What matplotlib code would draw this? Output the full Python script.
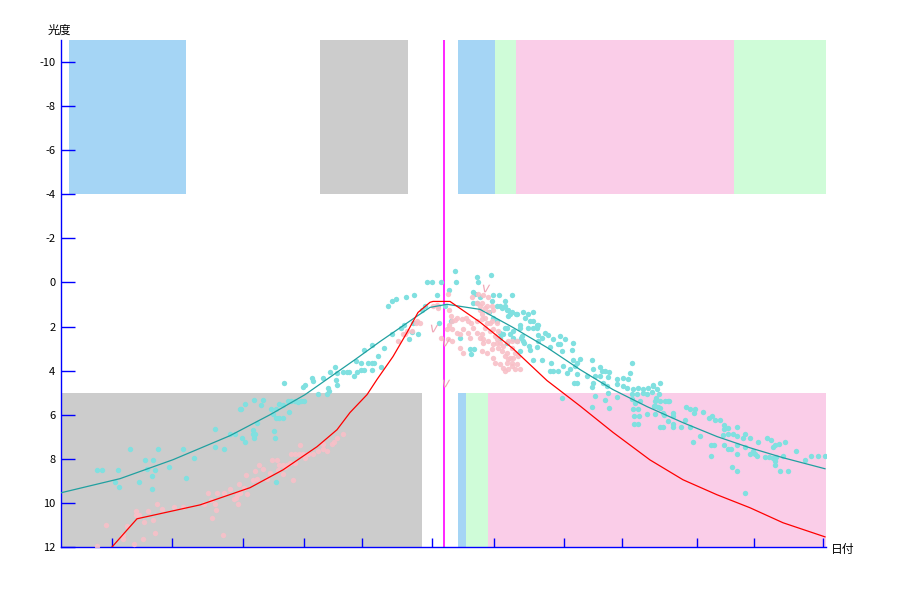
import matplotlib
matplotlib.use('Agg')
import matplotlib.pyplot as plt

plt.rcParams['font.family'] = ['Noto Sans CJK JP', 'DejaVu Sans']

# days from left edge, magnitude
yticks = [-10, -8, -6, -4, -2, 0, 2, 4, 6, 8, 10, 12]
xticks = [25.5, 55.5, 91, 121.5, 150.5, 185.5, 216.5, 251.5, 280.5, 318, 346.5, 381]

# observation bands (start day, end day, colour)
top_bands = [(4, 62.5, 'blue'), (129.5, 173.5, 'gray'), (198.5, 217, 'blue'),
             (217, 227.5, 'green'), (227.5, 336.5, 'pink'), (336.5, 382.5, 'green')]
bottom_bands = [(0, 180.5, 'gray'), (198.5, 202.5, 'blue'), (202.5, 213.5, 'green'),
                (213.5, 382.5, 'pink')]
band_colors = {'blue': '#a5d5f5', 'gray': '#cccccc', 'green': '#cffcd8', 'pink': '#facde8'}
top_range = (-11, -4)
bottom_range = (5, 12)
peak_day = 191.5

# model curves
teal_x = [0, 29.5, 56, 84.5, 104.5, 122, 147, 159.5, 177, 184.5, 193, 209.5, 226, 243,
          259.5, 276, 293, 311, 328, 344.5, 361, 382]
teal_y = [9.54, 8.9, 8.04, 6.95, 6.0, 5.09, 3.5, 2.68, 1.59, 1.13, 0.99, 1.22, 2.04, 2.95,
          3.95, 4.86, 5.63, 6.36, 6.99, 7.5, 7.95, 8.45]
red_x = [25.5, 33, 38, 69.5, 94.5, 111, 128, 138, 144.5, 153, 158, 166, 173, 178.5, 184.5,
         186, 194.5, 209.5, 226, 243, 259.5, 276, 294.5, 311, 328, 344.5, 361, 382]
red_y = [12, 11.23, 10.72, 10.09, 9.31, 8.5, 7.45, 6.68, 5.9, 5.09, 4.4, 3.36, 2.27, 1.36,
         0.9, 0.86, 0.86, 1.8, 3.0, 4.45, 5.6, 6.8, 8.05, 8.95, 9.63, 10.22, 10.9, 11.54]

cyan_x = [18, 20.5, 28.5, 27, 29, 34.5, 39, 42, 43, 45.5, 45.5, 46, 47, 48.5, 54, 61, 62.5,
          66.5, 77, 77, 81.5, 87, 89.5, 90.5, 92, 96, 96.5, 106.5, 107, 107.5, 84.5, 92,
          90, 96.5, 101, 100, 105, 107.5, 106, 109, 111, 113.5, 115, 117, 118.5, 120, 121.5,
          107.5, 109, 111, 114, 98, 96, 97, 111.5, 121, 122, 125.5, 126, 131, 133.5, 134,
          133, 128.5, 134.5, 137, 137.5, 138, 138, 141, 143, 144, 146.5, 148, 150, 150,
          151.5, 147.5, 151.5, 153.5, 155.5, 156.5, 155.5, 155.5, 158.5, 160, 161.5, 165.5,
          170, 171.5, 175.5, 176, 174, 178.5, 163.5, 165.5, 167.5, 172.5, 176.5, 182, 180.5,
          183, 185.5, 190, 188, 197, 197.5, 194, 192, 188.5, 208, 215, 208.5, 206, 207,
          209.5, 206, 208, 216, 219, 225.5, 222, 218, 220.5, 223.5, 225.5, 227.5, 231, 233.5,
          236, 214, 216, 218, 222, 226, 229.5, 219.5, 223, 226, 230, 231.5, 234, 236, 238.5,
          238, 204.5, 206.5, 205, 199.5, 195, 189,
          215.5, 219.5, 222, 223, 224.5, 223.5, 228, 232, 234.5, 236, 238.5, 229.5, 233.5,
          236, 238, 223, 242, 243.5, 246, 249.5, 219.5, 221, 224.5, 230.5, 226, 228, 231,
          238.5, 240.5, 249.5, 252, 229.5, 234.5, 238, 244.5, 248.5, 250.5, 256, 255.5,
          240.5, 245, 244.5, 246, 248.5, 251, 253, 254.5, 256, 258, 259.5, 257, 258, 256.5,
          258, 265.5, 263, 266, 267, 269.5, 270.5, 272, 274, 273.5, 269.5, 271, 273, 266,
          265.5, 278, 278, 281, 283.5, 285.5, 284.5, 281, 283, 278, 273.5, 272, 274, 267,
          265.5, 250.5, 286, 288.5, 291, 293.5, 296, 299.5, 285.5, 288, 291, 293, 285.5,
          287, 289.5, 297, 299.5, 302, 303.5, 286, 288.5, 297, 299.5, 286.5, 289, 293, 301,
          306, 306, 286.5, 288.5, 299.5, 301, 306, 298,
          296, 295.5, 297.5, 299, 304, 296.5, 298.5, 301.5, 297, 303.5, 306, 310, 314.5,
          312.5, 314.5, 317, 316.5, 312, 321, 324, 325.5, 327, 329.5, 331.5, 331.5, 333.5,
          338, 319.5, 316, 325, 326.5, 325, 331, 333.5, 336, 338, 341, 342, 344.5, 331.5,
          333.5, 335, 338, 338, 342, 344.5, 346, 347, 348.5, 348, 353, 355, 357, 359, 356,
          362, 352, 354, 356, 357.5, 357, 357, 361, 367.5, 372, 375, 378.5, 382, 359.5,
          363.5, 335.5, 338, 342]
cyan_y = [8.5, 8.5, 8.5, 9.05, 9.27, 7.55, 9.05, 8.05, 8.45, 8.77, 9.36, 8.05, 8.5, 7.55,
          8.36, 7.55, 8.86, 7.95, 6.64, 7.45, 7.55, 6.86, 5.73, 7.05, 7.23, 6.86, 7.05, 6.73,
          7.05, 9.05, 6.86, 5.5, 5.73, 5.32, 5.32, 5.55, 5.73, 5.73, 5.95, 5.5, 5.55, 5.36,
          5.36, 5.36, 5.41, 5.36, 5.36, 6.14, 6.14, 6.14, 5.86, 6.36, 6.68, 6.86, 4.55, 4.73,
          4.64, 4.32, 4.45, 4.32, 4.77, 4.91, 5.05, 5.05, 4.05, 3.82, 4.41, 4.64, 4.09, 4.05,
          4.05, 4.05, 4.23, 4.05, 3.64, 3.95, 3.95, 3.55, 3.05, 3.64, 3.64, 3.64, 3.95, 2.82,
          3.32, 3.82, 2.95, 2.32, 2.05, 1.91, 2.23, 1.82, 2.55, 2.32, 1.05, 0.82, 0.73, 0.64,
          0.55, 1.05, 1.27, 0.0, 0.0, 0.0, 0.55, -0.5, 0.0, 0.32, 1.05, 1.05, -0.27, -0.36,
          0.0, 0.41, 0.5, 0.68, 0.91, 0.95, 0.55, 0.55, 0.55, 0.86, 1.05, 1.14, 1.23, 1.36,
          1.41, 1.36, 1.45, 1.36, 1.36, 1.59, 1.77, 2.05, 2.18, 2.05, 2.5, 2.73, 2.5, 2.5,
          2.73, 2.86, 3.5, 2.36, 1.95, 3.0, 3.0, 3.23, 2.5, 1.73, 1.82,
          0.82, 1.05, 1.05, 1.27, 1.41, 1.5, 1.41, 1.59, 1.73, 1.73, 1.91, 1.91, 2.05, 2.05,
          2.05, 2.05, 2.27, 2.36, 2.55, 2.41, 2.27, 2.32, 2.32, 2.41, 2.55, 2.64, 2.64, 2.64,
          2.5, 2.77, 2.55, 3.09, 3.05, 2.91, 2.91, 2.77, 3.09, 2.73, 3.05, 3.5, 3.64, 4.0,
          4.0, 4.0, 3.77, 4.09, 3.91, 3.5, 3.64, 3.45, 3.77, 4.14, 4.55, 4.55, 3.5, 4.23,
          3.91, 4.23, 3.82, 4.0, 4.0, 4.05, 4.27, 4.23, 4.55, 4.68, 4.55, 4.73, 4.36, 4.59,
          4.32, 4.36, 3.64, 4.09, 4.68, 4.77, 5.18, 5.0, 5.32, 5.68, 5.14, 5.64, 5.23, 4.82,
          4.77, 4.82, 4.77, 4.68, 4.55, 5.05, 5.05, 5.0, 5.05, 5.27, 5.45, 5.36, 5.36, 5.36,
          5.36, 5.36, 5.73, 5.73, 5.59, 5.68, 6.05, 6.05, 5.95, 5.91, 5.91, 6.05, 6.41, 6.41,
          6.55, 6.55, 6.41, 4.82,
          4.64, 4.95, 5.23, 5.05, 5.36, 5.59, 5.64, 6.0, 5.95, 6.27, 6.55, 6.55, 6.55, 5.64,
          5.73, 5.73, 5.91, 6.23, 5.86, 6.14, 6.05, 6.23, 6.23, 6.45, 6.64, 6.59, 6.55, 6.95,
          7.23, 7.36, 7.36, 7.86, 6.91, 6.86, 6.86, 6.95, 7.05, 6.86, 7.05, 7.36, 7.55, 7.55,
          7.36, 7.77, 7.45, 7.77, 7.64, 7.77, 7.23, 7.86, 7.05, 7.14, 7.36, 7.32, 7.45, 7.23,
          7.91, 7.91, 7.95, 7.91, 8.09, 8.27, 7.86, 7.64, 8.05, 7.86, 7.86, 7.86, 8.55, 8.55,
          8.36, 8.55, 9.55]

pink_x = [18, 22.5, 31, 31, 33, 36.5, 41, 37.5, 37.5, 39, 43.5, 41.5, 46, 47, 48, 50.5,
          56.5, 61, 73.5, 78, 81.5, 75.5, 77.5, 77, 81, 84.5, 86.5, 87.5, 88.5, 89, 75, 71.5,
          88, 89.5, 91.5, 93, 92.5, 96, 98, 97, 99, 101, 103, 104.5, 105.5, 108, 109, 111,
          113, 108.5, 112, 115, 117, 119, 121, 114.5, 117, 116, 119.5, 122, 126, 128.5, 131,
          133, 135.5, 136.5, 138, 141, 131, 123.5, 111,
          168.5, 171, 172, 173, 175.5, 177.5, 178, 179.5, 186, 188, 188.5, 193.5, 194, 195,
          195.5, 194, 197, 198, 200.5, 202.5, 203.5, 205, 193, 195.5, 198, 199.5, 201, 203.5,
          206, 208, 209.5, 211, 208, 209.5, 210.5, 212, 213, 205.5, 208, 208.5, 209.5, 212,
          213.5, 214.5, 216, 217, 218, 218.5, 220.5, 222, 223.5, 225.5, 226, 219.5, 221, 222,
          223.5, 210.5, 213, 199.5, 201, 193.5, 195.5, 190, 204.5, 225.5, 227, 228.5, 216,
          217, 225.5, 211, 213.5, 210.5, 213, 215.5, 216, 210.5, 215.5, 218, 212, 214.5,
          218.5, 210.5, 211, 213.5, 216, 218, 219.5, 221, 215.5, 223, 224.5, 223, 225.5, 228,
          227, 229.5, 228, 223.5]
pink_y = [11.95, 11.0, 11.45, 11.64, 11.05, 11.86, 11.64, 10.36, 10.55, 10.55, 10.36, 10.86,
          10.77, 11.36, 10.05, 10.27, 10.18, 10.18, 9.55, 9.55, 9.55, 10.68, 10.32, 10.05,
          11.45, 9.36, 9.82, 9.77, 10.05, 9.14, 9.86, 10.05, 9.64, 9.55, 9.32, 9.59, 8.73,
          8.95, 8.91, 8.55, 8.27, 8.45, 8.91, 8.64, 8.05, 8.05, 8.27, 8.27, 8.27, 8.5, 8.36,
          7.77, 7.77, 7.77, 7.77, 8.18, 8.18, 8.95, 7.36, 7.95, 7.77, 7.64, 7.55, 7.64, 7.32,
          7.23, 7.05, 6.86, 7.32, 7.77, 8.68,
          2.64, 2.32, 2.32, 2.18, 2.18, 1.82, 1.73, 1.82, 1.05, 1.0, 1.14, 0.5, 1.27, 1.5,
          1.73, 1.95, 1.68, 1.59, 1.64, 1.59, 1.73, 1.86, 2.09, 2.09, 2.27, 2.32, 2.09, 2.27,
          2.05, 2.27, 2.5, 2.73, 1.73, 1.27, 1.41, 1.59, 1.82, 0.68, 0.91, 0.5, 1.05, 1.18,
          1.36, 1.86, 2.09, 2.41, 2.73, 2.95, 3.09, 3.32, 3.45, 3.64, 3.41, 3.68, 3.86, 4.0,
          3.91, 3.09, 3.18, 2.95, 3.18, 2.55, 2.64, 2.5, 2.5, 2.95, 3.18, 3.32, 3.41, 3.64,
          2.64, 0.59, 0.68, 0.95, 1.05, 1.05, 1.27, 1.64, 1.73, 1.86, 2.05, 2.18, 2.18, 2.32,
          2.55, 2.64, 2.77, 2.55, 2.73, 2.86, 3.0, 3.18, 3.41, 3.64, 3.77, 3.68, 3.91, 3.91,
          2.64, 2.64]

# upper limit marks
limit_x = [186.5, 192.5, 192.5, 212.5]
limit_y = [2.05, 2.68, 4.55, 0.23]

fig = plt.figure(figsize=(9, 6), dpi=100)
ax = fig.add_axes([61 / 900, 53 / 600, 765 / 900, 507 / 600])

for x0, x1, c in top_bands:
    ax.axvspan(x0, x1, ymin=1 - (top_range[1] - (-11)) / 23, ymax=1,
               color=band_colors[c], lw=0, zorder=0)
for x0, x1, c in bottom_bands:
    ax.axvspan(x0, x1, ymin=0, ymax=(12 - bottom_range[0]) / 23,
               color=band_colors[c], lw=0, zorder=0)

ax.axvline(peak_day, color='#ff00ff', lw=1.2, zorder=1)

ax.scatter(cyan_x, cyan_y, marker='o', s=15, color='#80e0e0', lw=0, zorder=2)
ax.scatter(pink_x, pink_y, marker='o', s=15, color='#f8c0c8', lw=0, alpha=0.9, zorder=3)
ax.scatter(limit_x, limit_y, marker='$v$', s=30, color='#f0a8b8', lw=0, zorder=3)

ax.plot(teal_x, teal_y, color='#20a0a0', lw=0.9, zorder=4)
ax.plot(red_x, red_y, color='#ff0000', lw=0.9, zorder=5)

ax.set_xlim(0, 382.5)
ax.set_ylim(12, -11)
ax.set_yticks(yticks)
ax.set_yticklabels([str(v) for v in yticks], fontsize=8)
ax.set_xticks(xticks)
ax.set_xticklabels([])
ax.tick_params(axis='y', direction='in', length=10, width=1, color='blue', pad=4)
ax.tick_params(axis='x', direction='in', length=6.5, width=1, color='blue')
for s in ['top', 'right']:
    ax.spines[s].set_visible(False)
for s in ['left', 'bottom']:
    ax.spines[s].set_color('blue')
    ax.spines[s].set_linewidth(1)

fig.text(48 / 900, 1 - 30 / 600, '光度', fontsize=8.5, va='center', ha='left')
fig.text(831 / 900, 1 - 549 / 600, '日付', fontsize=8.5, va='center', ha='left')

fig.savefig('out.png', dpi=100)
